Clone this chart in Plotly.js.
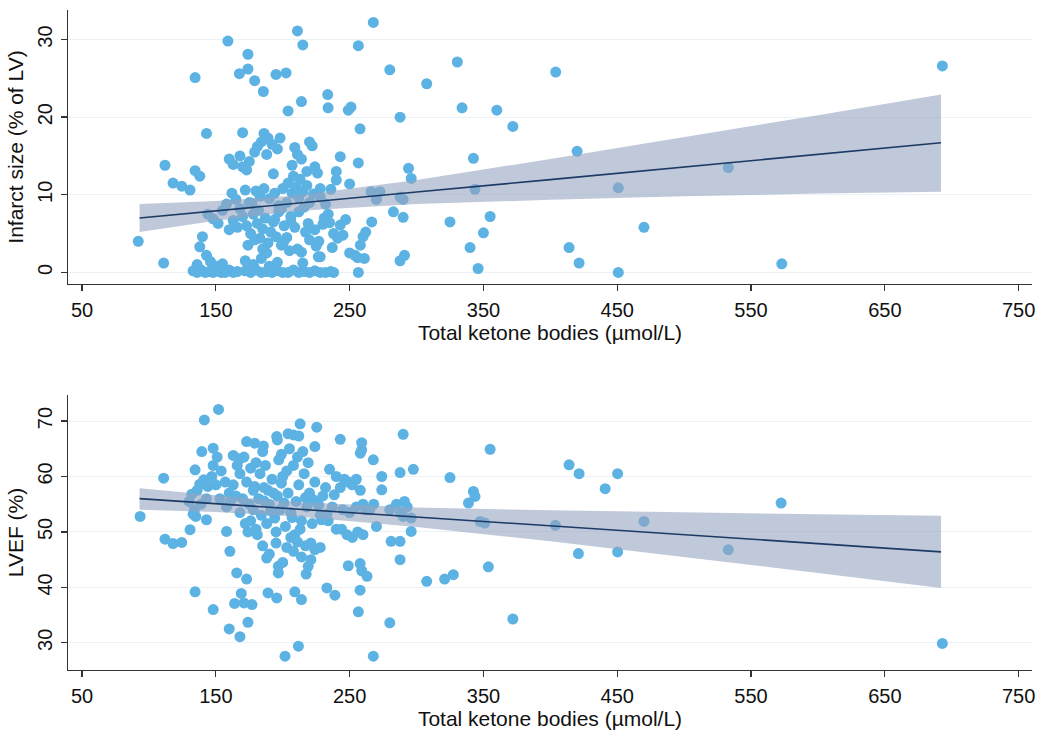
<!DOCTYPE html>
<html>
<head>
<meta charset="utf-8">
<script src="https://cdn.plot.ly/plotly-3.0.1.min.js"></script>
<style>html,body{margin:0;padding:0;background:#fff}#chart{width:1043px;height:732px}</style>
</head>
<body>
<div id="chart"></div>
<script>
// ---------- Data: Infarct size vs total ketone bodies ----------
var infX = [267.7,211,159,215,256.5,174,330.5,134.5,167.6,174,179,195,202.5,280,185.5,307.6,233.6,214,233.9,204,249,251,334,360,287.7,372,257.8,143,170,342.5,112,134.5,138,118,124.5,130.7,250,228,343.7,266,272.7,270,287.7,290,144,148,151.7,282.7,290,325,355,266.5,350,92,340,111,346,256.5,287.7,291,226.6,243,256.5,240,240,294,296,193,
404,420,450.8,533,470,414,421.5,450.8,573,693,
160,163,168,170,175,173,
186,189,184,192,196,188,198,181,179,
209,211,214,207,220,222,218,226,224,
180,183,186,190,194,197,200,204,207,210,212,215,218,220,223,228,232,236,203,213,208,216,
162,165,168,172,175,158,155,
170,173,176,178,181,183,185,187,189,191,193,195,197,199,201,185,179,174,166,163,160,
203,206,209,211,214,217,220,224,227,231,234,238,241,243,245,247,237,228,205,
140,138,143,146,150,155,136,
172,178,184,190,196,
133,136,139,142,145,148,151,154,157,160,163,166,172,176,180,184,188,192,196,200,204,208,212,216,220,224,228,232,236,238,
250,254,258,260,262,256,261,
182,199,206,212,219,230,177,194,201,188,225,235,215];
var infY = [32.2,31.1,29.8,29.3,29.2,28.1,27.1,25.1,25.6,26.2,24.7,25.5,25.7,26.1,23.3,24.3,22.9,22.0,21.2,20.8,20.9,21.3,21.2,20.9,20.0,18.8,18.5,17.9,18.0,14.7,13.8,13.1,12.4,11.5,11.1,10.6,11.4,10.8,10.7,10.4,10.4,9.4,9.7,9.4,7.5,6.9,6.3,7.8,7.1,6.5,7.2,6.5,5.1,4.0,3.2,1.2,0.5,0.0,1.5,2.2,2.0,14.9,14.1,13.0,11.9,13.4,12.1,12.7,
25.8,15.6,10.9,13.5,5.8,3.2,1.2,0.0,1.1,26.6,
14.6,13.9,15.0,13.6,14.3,13.2,
17.9,17.3,16.8,16.5,15.9,15.2,17.3,16.2,15.5,
16.1,15.2,14.6,13.8,16.8,16.3,13.0,12.8,13.6,
10.5,9.8,10.8,9.5,10.2,8.6,10.8,11.5,10.2,11.0,9.6,10.4,11.2,9.0,10.1,9.7,8.8,10.7,9.0,12.0,12.4,8.4,
10.2,9.4,8.2,10.6,9.0,8.8,8.0,
7.2,6.0,5.0,7.5,6.3,4.4,5.6,7.0,3.8,5.2,6.5,4.6,7.8,3.5,6.0,3.0,4.2,3.5,5.8,6.7,5.5,
4.5,7.2,5.8,3.0,2.6,5.2,4.2,5.5,4.0,7.0,7.5,5.0,4.4,6.1,4.8,6.8,3.2,2.0,2.8,
4.6,3.3,2.2,1.4,0.8,1.1,1.0,
1.5,1.0,1.8,0.8,1.3,
0.2,0,0.3,0,0.1,0,0.2,0,0,0.3,0,0.1,0.2,0,0.3,0,0.1,0,0.2,0,0,0.3,0,0.1,0,0.2,0,0,0.1,0,
2.5,2.2,3.5,4.6,5.2,1.9,1.8,
8.0,8.2,6.6,7.8,6.3,6.2,8.9,6.8,4.0,2.5,3.4,6.4,1.2];

// fitted line and 95% CI
var infFitX = [93,150,210,300,400,500,600,692];
var infFit  = [7.0,7.9,8.9,10.35,11.95,13.6,15.2,16.7];
var infLo   = [5.2,6.65,7.9,8.8,9.35,9.8,10.15,10.4];
var infHi   = [8.8,9.2,9.9,11.9,14.6,17.4,20.25,22.9];

// ---------- Data: LVEF vs total ketone bodies ----------
var efX = [152,141.4,213,225.4,204,208,212,195.5,196,290,243,259,259,258,173,179,185.5,148,224,355,139.5,267.7,163,168,134.5,297.6,235,287.7,111,274,325,274,238.5,342.5,343.7,338.8,143,130.7,93.4,112,118,124.5,158,160.5,347.5,351,296,270,281,287.7,287.7,249,257.8,259,263,165.6,173,307.6,321,327.5,353.7,196.7,196.7,219,217.5,134.5,169,164,171,177,189,195.5,209,214,233,239,257.8,148,256.5,174,280,372,160,168,211.7,201.7,267.7,
414,421.5,450.3,441,572.5,403.8,470,421,450.3,533,693,
130,132,134,136,133,138,141,144,147,143,139,135,
148,151,154,157,160,163,153,158,161,165,150,
166,168,171,173,176,178,180,170,175,
176,178,180,182,184,186,188,190,192,194,196,198,200,202,204,206,208,210,212,214,216,218,220,222,224,226,228,230,232,234,183,187,197,203,211,219,215,205,199,185,189,195,209,213,221,181,172,168,174,
185,190,195,200,203,206,208,211,214,217,221,224,228,188,
240,243,246,249,252,255,258,245,250,255,260,262,240,244,248,252,256,260,237,265,268,
280,285,288,291,293,296,290,
191,201,207,217,227,233,179,186,193,223,229,199];
var efY = [72.1,70.2,69.5,68.9,67.7,67.5,67.3,67.2,66.6,67.6,66.7,66.1,64.8,64.2,66.3,66,65.5,65.1,65.4,64.9,64.5,63.0,63.8,63.2,61.2,61.3,61.3,60.7,59.7,60.0,59.8,57.6,56.7,57.3,56.4,55.2,52.2,50.4,52.8,48.7,47.9,48.1,50.1,46.5,51.9,51.6,50.1,51.0,48.3,48.3,45.0,43.9,44.3,43.0,42.0,42.6,41.5,41.1,41.5,42.3,43.7,43.8,42.6,43.8,42.4,39.2,38.9,37.1,37.2,36.9,39.0,38.1,39.2,37.8,39.9,38.6,39.5,36.0,35.6,33.7,33.6,34.3,32.5,31.1,29.4,27.6,27.6,
62.1,60.5,60.5,57.8,55.2,51.2,51.9,46.1,46.4,46.8,29.9,
55.5,56.8,54.0,57.5,53.2,58.6,59.4,58.2,60.0,56.0,55.0,52.8,
62.0,63.5,61.0,59.0,57.0,58.5,56.0,54.5,55.5,56.5,58.5,
62.0,60.5,63.5,59.0,61.5,57.5,62.5,56.0,55.0,
52,54,50.5,56,53,58,51.5,55,59.5,52.5,56.5,54,60,51,57,53.5,62,55.5,58.5,52,60.5,54.5,57,51.5,59,55,53,56.5,58,52,60.5,62,63,61,63.5,62.5,64.5,65,64,64.5,57.5,50,49.5,50.5,48,49.5,51.5,53.5,50,
47.5,46,48,44.5,47.2,49,46.5,48.2,45.5,47.5,45,46.8,47.2,45.3,
60,58,59.5,59,58.5,59.5,57.5,54,53.5,54.5,55,54,50.5,50.5,49.5,49,50,49.5,54.5,54,55,
54,55,53.5,55.5,54.5,52.5,52.8,
53.8,55.2,52.6,56.2,54.8,53.2,58.2,55.6,57.0,55.8,52.2,58.8];

var efFitX = [93,150,210,300,400,500,600,692];
var efFit  = [56.0,55.1,54.1,52.7,51.1,49.5,47.9,46.4];
var efLo   = [54.0,53.6,52.8,50.9,48.3,45.5,42.6,39.9];
var efHi   = [57.9,56.6,55.4,54.4,53.9,53.5,53.2,52.9];

var xTicks = [50,150,250,350,450,550,650,750];
var infTicks = [0,10,20,30];
var efTicks = [30,40,50,60,70];
var xTitle = 'Total ketone bodies (µmol/L)';

// ---------- Build ----------
var markerColor = '#5cb2e3';
var bandColor = 'rgba(150,165,192,0.6)';
var lineColor = '#1c3a66';

function band(xs, lo, hi, xa, ya) {
  var bx = xs.concat(xs.slice().reverse());
  var by = hi.concat(lo.slice().reverse());
  return {x: bx, y: by, xaxis: xa, yaxis: ya, type: 'scatter', mode: 'lines',
          fill: 'toself', fillcolor: bandColor, line: {width: 0}, hoverinfo: 'skip', showlegend: false};
}

var traces = [
  {x: infX, y: infY, xaxis: 'x', yaxis: 'y', type: 'scatter', mode: 'markers',
   marker: {color: markerColor, size: 11, line: {width: 0}}, showlegend: false},
  band(infFitX, infLo, infHi, 'x', 'y'),
  {x: infFitX, y: infFit, xaxis: 'x', yaxis: 'y', type: 'scatter', mode: 'lines',
   line: {color: lineColor, width: 1.6}, showlegend: false},
  {x: efX, y: efY, xaxis: 'x2', yaxis: 'y2', type: 'scatter', mode: 'markers',
   marker: {color: markerColor, size: 11, line: {width: 0}}, showlegend: false},
  band(efFitX, efLo, efHi, 'x2', 'y2'),
  {x: efFitX, y: efFit, xaxis: 'x2', yaxis: 'y2', type: 'scatter', mode: 'lines',
   line: {color: lineColor, width: 1.6}, showlegend: false}
];

var tickFont = {family: 'Liberation Sans, Arial, sans-serif', size: 20, color: '#111'};
var titleFont = {family: 'Liberation Sans, Arial, sans-serif', size: 21, color: '#111'};

function xAxis(anchor) {
  return {anchor: anchor, range: [39.5, 760], tickvals: xTicks, ticktext: xTicks.map(String),
    showline: true, linecolor: '#333', linewidth: 1.4, ticks: 'outside', ticklen: 6,
    tickcolor: '#333', tickwidth: 1.3, showgrid: false, zeroline: false,
    tickfont: tickFont, ticklabelstandoff: 2,
    title: {text: xTitle, font: titleFont, standoff: 2}};
}
function yAxis(anchor, domain, range, tv, title) {
  return {anchor: anchor, domain: domain, range: range, tickvals: tv, ticktext: tv.map(String),
    showline: true, linecolor: '#333', linewidth: 1.4, ticks: 'outside', ticklen: 6,
    tickcolor: '#333', tickwidth: 1.3, showgrid: true, gridcolor: '#ebf2f5', gridwidth: 1,
    zeroline: false, tickangle: -90, tickfont: tickFont, ticklabelstandoff: 1,
    title: {text: title, font: titleFont, standoff: 4}};
}

var layout = {
  width: 1043, height: 732,
  margin: {l: 68, r: 11, t: 10, b: 62},
  paper_bgcolor: '#fff', plot_bgcolor: '#fff',
  font: tickFont,
  xaxis: xAxis('y'),
  yaxis: yAxis('x', [0.5848, 1], [-1.5, 33.8], infTicks, 'Infarct size (% of LV)'),
  xaxis2: xAxis('y2'),
  yaxis2: yAxis('x2', [0, 0.4167], [25.1, 74.7], efTicks, 'LVEF (%)')
};

Plotly.newPlot('chart', traces, layout, {displayModeBar: false, staticPlot: true});
</script>
</body>
</html>
